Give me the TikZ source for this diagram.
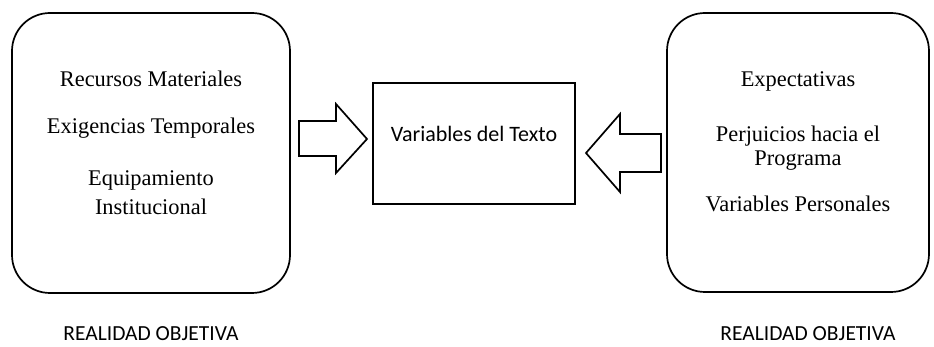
\documentclass[tikz,border=0pt]{standalone}
\usepackage{fontspec}
\setmainfont{Liberation Serif}
\newfontfamily\calibri{Carlito}
\tikzset{
  item/.style={anchor=base,font=\fontsize{11.2}{13}\selectfont},
  pie/.style={anchor=base,inner sep=0pt,font=\calibri\fontsize{10.75}{13}\selectfont}
}
\begin{document}
\begin{tikzpicture}[x=0.5pt,y=-0.5pt,line width=0.85pt]
      \useasboundingbox (0,0) rectangle (934,347);
      % cajas
      \draw[rounded corners=19pt] (12,13) rectangle (290,293);
      \draw (373,83) rectangle (575,204);
      \draw[rounded corners=19pt] (667,13) rectangle (929,292);
      % flechas
      \draw (299,121)--(336,121)--(336,104)--(367,139)--(336,173)--(336,156)--(299,156)--cycle;
      \draw (661,134)--(620,134)--(620,114)--(586,153)--(620,192)--(620,172)--(661,172)--cycle;
      % textos
      \node[item] (RM) at (151,87) {Recursos Materiales};
      \node[item] (ET) at (151,134) {Exigencias Temporales};
      \node[item] (EQ) at (151,186) {Equipamiento};
      \node[item] (IN) at (151,215) {Institucional};
      \node[item,font=\calibri\fontsize{11}{13}\selectfont] (VT) at (474,142) {Variables del Texto};
      \node[item] (EX) at (798,87) {Expectativas};
      \node[item] (PH) at (798,142) {Perjuicios hacia el};
      \node[item] (PR) at (798,166) {Programa};
      \node[item] (VP) at (798,212) {Variables Personales};
      \node[pie] (RO1) at (151,341) {REALIDAD OBJETIVA};
      \node[pie] (RO2) at (808,341) {REALIDAD OBJETIVA};
    \end{tikzpicture}
\end{document}
